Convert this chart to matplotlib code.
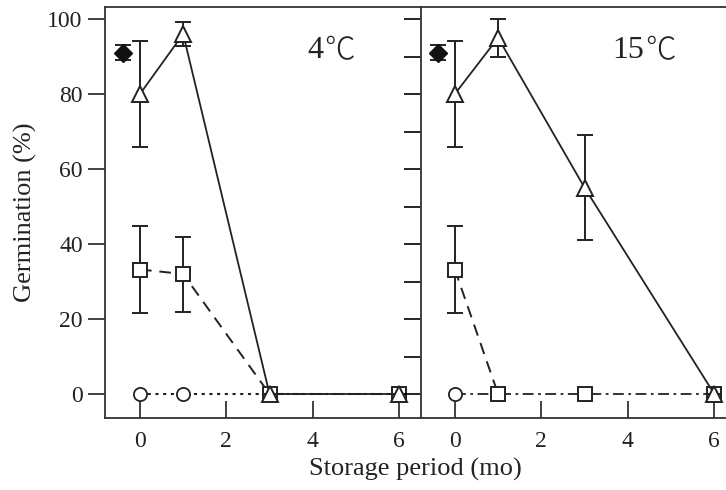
import matplotlib
matplotlib.use("Agg")
import matplotlib.pyplot as plt
from matplotlib.ticker import MultipleLocator

plt.rcParams['font.family'] = ['Liberation Serif', 'DejaVu Serif']

# ---- data ----
months = [0, 1, 3, 6]
fresh_x = -0.4
fresh_val = 91
fresh_err = 2

# 4 C panel
tri_4 = [80, 96, 0, 0]
tri_4_err = [14.2, 3.3, 0, 0]
sq_4 = [33.2, 32, 0, 0]
sq_4_err = [11.5, 10, 0, 0]
circ_4 = [0, 0, 0, 0]

# 15 C panel
tri_15 = [80, 95, 55, 0]
tri_15_err = [14.2, 5, 14, 0]
sq_15 = [33.2, 0, 0, 0]
sq_15_err = [11.5, 0, 0, 0]
circ_15 = [0, 0, 0, 0]

panel_temps = ["4", "15"]
degree_sign = "\u2103"
xticks = [0, 2, 4, 6]
yticks = [0, 20, 40, 60, 80, 100]

W, H = 726, 490
fig = plt.figure(figsize=(W / 100, H / 100), dpi=100)

def fx(px):
    return px / W

def fy(py):
    return 1 - py / H

top, bot = 7, 418
axL = fig.add_axes([fx(105), fy(bot), fx(420.7 - 105), (bot - top) / H])
axR = fig.add_axes([fx(420.7), fy(bot), fx(726 - 420.7), (bot - top) / H])

ylim = (-6.4, 103.2)
ebkw = dict(ecolor='#222222', elinewidth=1.4, capsize=5.5, capthick=1.4)

def draw(ax, tri, tri_err, sq, sq_err, circ, right):
    ax.set_ylim(*ylim)
    # circles
    if right:
        ax.plot(months, circ, color='#222222', lw=1.3, ls=(0, (6, 2.5, 1.5, 2.5)), zorder=2)
    else:
        ax.plot(months, circ, color='#222222', lw=1.5, ls=(0, (1.5, 2.2)), zorder=2)
    ax.plot(months, circ, ls='none', marker='o', ms=9.5, mfc='white', mec='#222222', mew=1.3, zorder=3)
    # squares
    if right:
        ax.plot(months[:2], sq[:2], color='#222222', lw=1.4, ls=(0, (6, 4)), zorder=4)
    else:
        ax.plot(months, sq, color='#222222', lw=1.4, ls=(0, (6, 4)), zorder=4)
    ax.errorbar(months, sq, yerr=sq_err, ls='none', marker='s', ms=10, mfc='white',
                mec='#222222', mew=1.4, zorder=5, **ebkw)
    # triangles
    ax.plot(months, tri, color='#222222', lw=1.3, zorder=6)
    ax.errorbar(months, tri, yerr=tri_err, ls='none', marker='^', ms=11, mfc='white',
                mec='#222222', mew=1.4, zorder=7, **ebkw)
    # fresh seed
    ax.errorbar([fresh_x], [fresh_val], yerr=[fresh_err], ls='none', marker='D', ms=9,
                mfc='#111111', mec='#111111', zorder=8, **ebkw)
    ax.set_xticks(xticks)
    ax.tick_params(axis='x', direction='in', length=12, width=1.2, pad=9,
                   labelsize=17, colors='#222222')
    for s in ax.spines.values():
        s.set_linewidth(1.3)
        s.set_color('#333333')
    ax.spines['right'].set_visible(False)

draw(axL, tri_4, tri_4_err, sq_4, sq_4_err, circ_4, False)
draw(axR, tri_15, tri_15_err, sq_15, sq_15_err, circ_15, True)

axL.set_xlim(-0.81, 6.5)
axR.set_xlim(-0.79, 6.27)

axL.set_yticks(yticks)
axL.tick_params(axis='y', direction='out', length=12, width=1.2, pad=4,
                labelsize=17, colors='#222222')
axR.yaxis.set_major_locator(MultipleLocator(10))
axR.tick_params(axis='y', direction='out', length=12, width=1.2, labelleft=False)

def temp_label(ax, x, y, num):
    t = ax.text(x, y, num, fontsize=23, ha='left', va='baseline', color='#222222',
                family='Liberation Serif')
    ax.annotate(degree_sign, xy=(1, 0), xycoords=t, xytext=(1, 4),
                textcoords='offset points', ha='left', va='baseline', fontsize=22,
                color='#222222', family=['Noto Sans CJK JP', 'DejaVu Sans'],
                fontweight='light')

temp_label(axL, 3.87, 89.6, panel_temps[0])
temp_label(axR, 3.64, 89.6, panel_temps[1])

fig.text(fx(25), fy(212), "Germination (%)", rotation=90, ha='center', va='center',
         fontsize=19, color='#222222')
fig.text(fx(415), fy(469), "Storage period (mo)", ha='center', va='center',
         fontsize=19, color='#222222')

fig.savefig("out.png", dpi=100)
